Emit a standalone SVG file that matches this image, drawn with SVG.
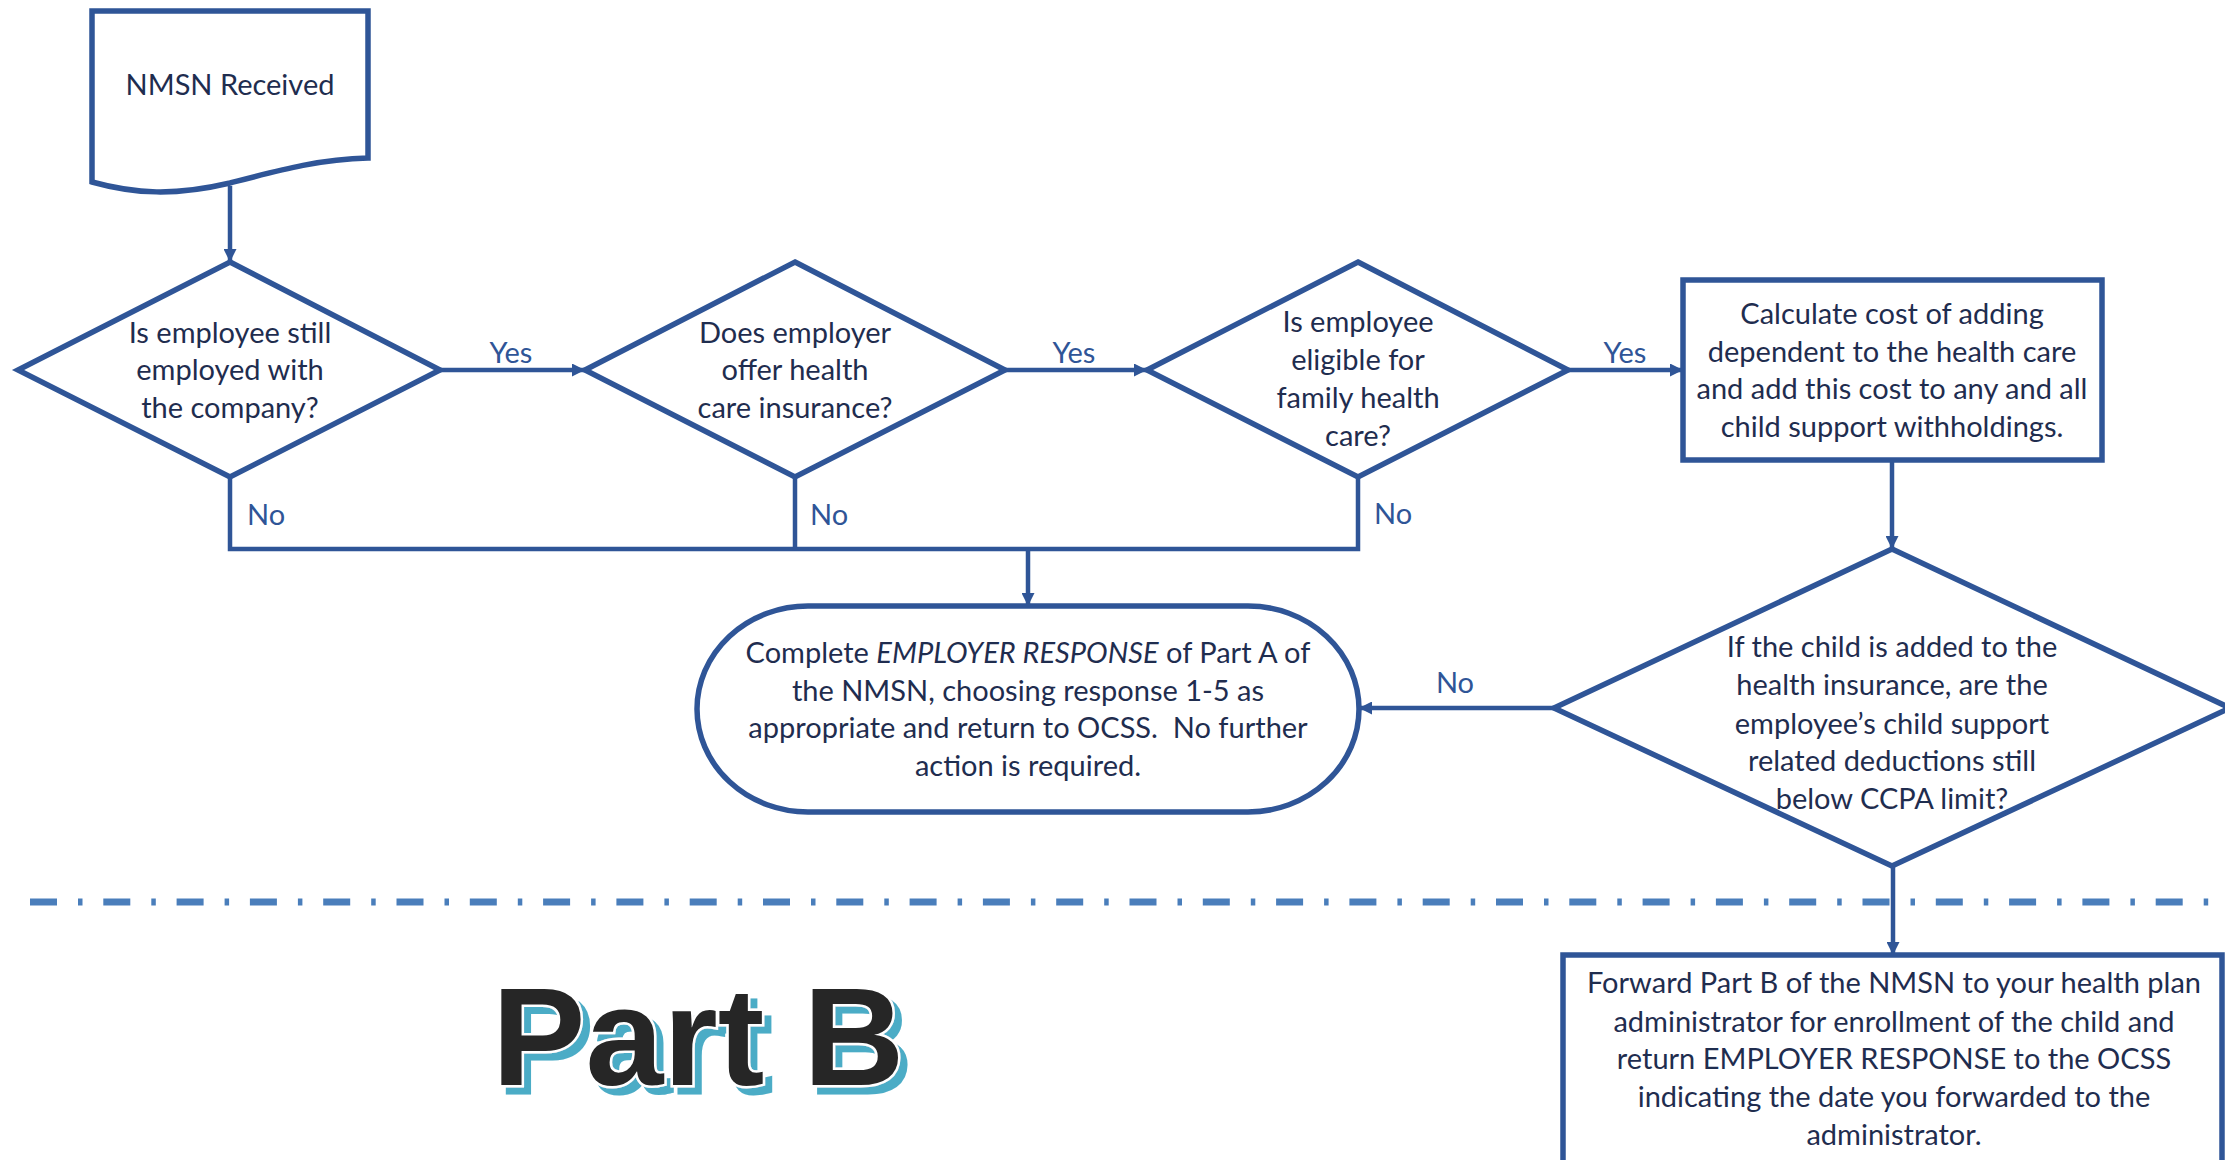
<svg xmlns="http://www.w3.org/2000/svg" width="2225" height="1160" viewBox="0 0 2225 1160">
<defs>
<marker id="arr" viewBox="0 0 12 12" refX="12" refY="6" markerWidth="13" markerHeight="13" markerUnits="userSpaceOnUse" orient="auto">
<path d="M0,0 L12,6 L0,12 z" fill="#2F5597"/>
</marker>
<filter id="shadow" x="-5%" y="-5%" width="115%" height="120%">
<feFlood flood-color="#4BACC6"/>
<feComposite in2="SourceAlpha" operator="in"/>
<feOffset dx="7" dy="7" result="sh"/>
<feMerge><feMergeNode in="sh"/><feMergeNode in="SourceGraphic"/></feMerge>
</filter>
<style>
.shape{fill:#fff;stroke:#2F5597;stroke-width:5.5;stroke-linejoin:miter}
.t{font-family:Lato,"Open Sans","Liberation Sans",sans-serif;font-size:29px;fill:#1F2D4F;text-anchor:middle}
.lbl{font-family:Lato,"Open Sans","Liberation Sans",sans-serif;font-size:29px;fill:#2F5597}
.c{fill:none;stroke:#2F5597;stroke-width:4.5}
.ca{fill:none;stroke:#2F5597;stroke-width:4.5;marker-end:url(#arr)}
</style>
</defs>
<rect width="2225" height="1160" fill="#fff"/>

<line x1="30" y1="902" x2="2225" y2="902" stroke="#4A7EBB" stroke-width="7" stroke-dasharray="27 21 4.5 20.8"/>

<g id="connectors">
<line class="ca" x1="230" y1="186" x2="230" y2="262"/>
<line class="ca" x1="440" y1="370" x2="585" y2="370"/>
<line class="ca" x1="1005" y1="370" x2="1147" y2="370"/>
<line class="ca" x1="1568" y1="370" x2="1683" y2="370"/>
<line class="ca" x1="1892" y1="460" x2="1892" y2="549"/>
<line class="ca" x1="1554" y1="708" x2="1359" y2="708"/>
<line class="ca" x1="1893" y1="866" x2="1893" y2="955"/>
<polyline class="c" points="230,477 230,549 1358,549 1358,477"/>
<line class="c" x1="795" y1="477" x2="795" y2="549"/>
<line class="ca" x1="1028" y1="549" x2="1028" y2="606"/>
<text class="lbl" x="511" y="363" text-anchor="middle">Yes</text>
<text class="lbl" x="1074" y="363" text-anchor="middle">Yes</text>
<text class="lbl" x="1625" y="363" text-anchor="middle">Yes</text>
<text class="lbl" x="247" y="525">No</text>
<text class="lbl" x="810" y="525">No</text>
<text class="lbl" x="1374" y="524">No</text>
<text class="lbl" x="1455" y="693" text-anchor="middle">No</text>
</g>

<g id="nmsn-received">
<path class="shape" stroke-width="6" d="M92,11 H368 V158 C320,159 280,170 230,183 C175,196 135,194 92,182 Z"/>
<text class="t" x="230" y="95">NMSN Received</text>
</g>

<g id="still-employed">
<polygon class="shape" points="230,262 440,370 230,477 18,370"/>
<text class="t" x="230" y="343">Is employee still</text>
<text class="t" x="230" y="380">employed with</text>
<text class="t" x="230" y="418">the company?</text>
</g>

<g id="offer-insurance">
<polygon class="shape" points="795,262 1005,370 795,477 585,370"/>
<text class="t" x="795" y="343">Does employer</text>
<text class="t" x="795" y="380">offer health</text>
<text class="t" x="795" y="418">care insurance?</text>
</g>

<g id="eligible-family">
<polygon class="shape" points="1358,262 1568,370 1358,477 1147,370"/>
<text class="t" x="1358" y="332">Is employee</text>
<text class="t" x="1358" y="370">eligible for</text>
<text class="t" x="1358" y="408">family health</text>
<text class="t" x="1358" y="446">care?</text>
</g>

<g id="calculate-cost">
<rect class="shape" x="1683" y="280" width="419" height="180"/>
<text class="t" x="1892" y="324">Calculate cost of adding</text>
<text class="t" x="1892" y="362">dependent to the health care</text>
<text class="t" x="1892" y="399">and add this cost to any and all</text>
<text class="t" x="1892" y="437">child support withholdings.</text>
</g>

<g id="ccpa-limit">
<polygon class="shape" points="1892,549 2230,708 1892,866 1554,708"/>
<text class="t" x="1892" y="657">If the child is added to the</text>
<text class="t" x="1892" y="695">health insurance, are the</text>
<text class="t" x="1892" y="734">employee’s child support</text>
<text class="t" x="1892" y="771">related deductions still</text>
<text class="t" x="1892" y="809">below CCPA limit?</text>
</g>

<g id="employer-response">
<path class="shape" d="M808,606 H1248 A111,103 0 0 1 1248,812 H808 A111,103 0 0 1 808,606 Z"/>
<text class="t" x="1028" y="663">Complete <tspan font-style="italic">EMPLOYER RESPONSE</tspan> of Part A of</text>
<text class="t" x="1028" y="701">the NMSN, choosing response 1-5 as</text>
<text class="t" x="1028" y="738">appropriate and return to OCSS.&#160; No further</text>
<text class="t" x="1028" y="776">action is required.</text>
</g>

<g id="forward-part-b">
<rect class="shape" x="1563" y="955" width="659" height="260"/>
<text class="t" x="1894" y="993">Forward Part B of the NMSN to your health plan</text>
<text class="t" x="1894" y="1032">administrator for enrollment of the child and</text>
<text class="t" x="1894" y="1069">return EMPLOYER RESPONSE to the OCSS</text>
<text class="t" x="1894" y="1107">indicating the date you forwarded to the</text>
<text class="t" x="1894" y="1145">administrator.</text>
</g>

<g id="part-b-title">
<text x="492" y="1085" font-family="'Liberation Sans',Arial,sans-serif" font-weight="bold" font-size="140" fill="#262626" stroke="#fff" stroke-width="5" paint-order="stroke" filter="url(#shadow)">Part B</text>
</g>
</svg>
